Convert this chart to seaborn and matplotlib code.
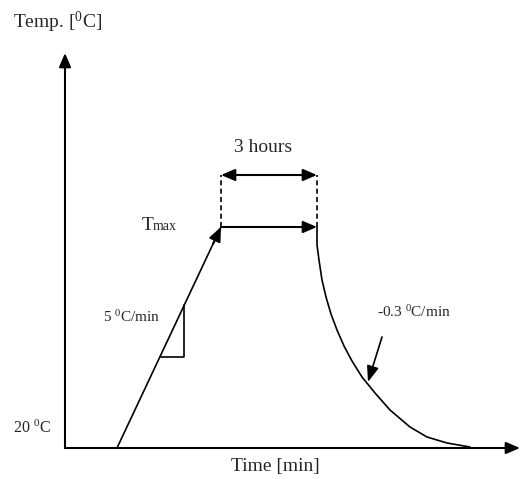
import matplotlib
matplotlib.use("Agg")
import matplotlib.pyplot as plt
import seaborn as sns
import pandas as pd

# Schematic data (x: time units, y: temperature units, origin at axes corner)
ramp_time = [52, 156]
ramp_temp = [0, 221]
hold_time = [156, 252]
hold_temp = [221, 221]
cool_time = [252, 252, 254, 257, 261, 266, 272, 279, 287, 297, 310, 325, 345, 362, 382, 405]
cool_temp = [221, 203, 188, 168, 151, 134, 118, 102, 87, 71, 55, 38, 21, 11, 5, 1]
dash_top = 273
slope_tri_x = [96, 119, 119]
slope_tri_y = [91, 91, 143]
xaxis_end = 455
yaxis_end = 395

sns.set_theme(style="white")
plt.rcParams['font.family'] = ['Liberation Serif', 'DejaVu Serif']
plt.rcParams['mathtext.fontset'] = 'custom'
plt.rcParams['mathtext.rm'] = 'Liberation Serif'
plt.rcParams['mathtext.it'] = 'Liberation Serif'

fig = plt.figure(figsize=(5.21, 4.79), dpi=100)
ax = fig.add_axes([0, 0, 1, 1])
ax.set_xlim(-65, 456)
ax.set_ylim(-31, 448)
ax.axis('off')

lw = 1.5
arrow_kw = dict(arrowstyle='-|>,head_length=0.7,head_width=0.3', color='black', lw=lw, shrinkA=0, shrinkB=0)
line_kw = dict(color='black', lw=1.2, ax=ax, sort=False, estimator=None, errorbar=None)

# axes
ax.annotate('', xy=(xaxis_end, 0), xytext=(0, 0), arrowprops=arrow_kw)
ax.annotate('', xy=(0, yaxis_end), xytext=(0, 0), arrowprops=arrow_kw)

# ramp
ramp_df = pd.DataFrame({'t': ramp_time, 'T': ramp_temp})
sns.lineplot(data=ramp_df, x='t', y='T', **line_kw)
ax.annotate('', xy=(ramp_time[1], ramp_temp[1]),
            xytext=(ramp_time[1] - 8, ramp_temp[1] - 17), arrowprops=arrow_kw)

# hold plateau
ax.annotate('', xy=(hold_time[1], hold_temp[1]), xytext=(hold_time[0], hold_temp[0]), arrowprops=arrow_kw)

# dashed verticals
for xv in hold_time:
    sns.lineplot(x=[xv, xv], y=[hold_temp[0], dash_top], linestyle=(0, (3, 2)), **line_kw)

# double arrow "3 hours"
dbl_kw = dict(arrowstyle='<|-|>,head_length=0.7,head_width=0.3', color='black', lw=lw, shrinkA=0, shrinkB=0)
ax.annotate('', xy=(hold_time[1], dash_top), xytext=(hold_time[0], dash_top), arrowprops=dbl_kw)

# cooling curve
cool_df = pd.DataFrame({'t': cool_time, 'T': cool_temp})
sns.lineplot(data=cool_df, x='t', y='T', **line_kw)

# slope triangle
sns.lineplot(x=slope_tri_x, y=slope_tri_y, **line_kw)

# cooling arrow
ax.annotate('', xy=(303, 66), xytext=(317, 111), arrowprops=dict(arrowstyle='-|>,head_length=0.8,head_width=0.3',
            color='black', lw=1.2, shrinkA=0, shrinkB=0))

# texts
ax.text(-52, 426, 'Temp. [$^{0}$C]', fontsize=14, ha='left', va='center')
ax.text(210, -19, 'Time [min]', fontsize=14, ha='center', va='center')
ax.text(198, 301, '3 hours', fontsize=14, ha='center', va='center')
ax.text(77, 218, 'T', fontsize=14, ha='left', va='baseline')
ax.text(88, 218, 'max', fontsize=10, ha='left', va='baseline')
ax.text(38, 131, '5 $^{0}$C/min', fontsize=11, ha='left', va='center')
ax.text(-52, 20, '20 $^{0}$C', fontsize=11.5, ha='left', va='center')
ax.text(312, 136, '-0.3 $^{0}$C/min', fontsize=11, ha='left', va='center')

fig.savefig('out.png', dpi=100)
